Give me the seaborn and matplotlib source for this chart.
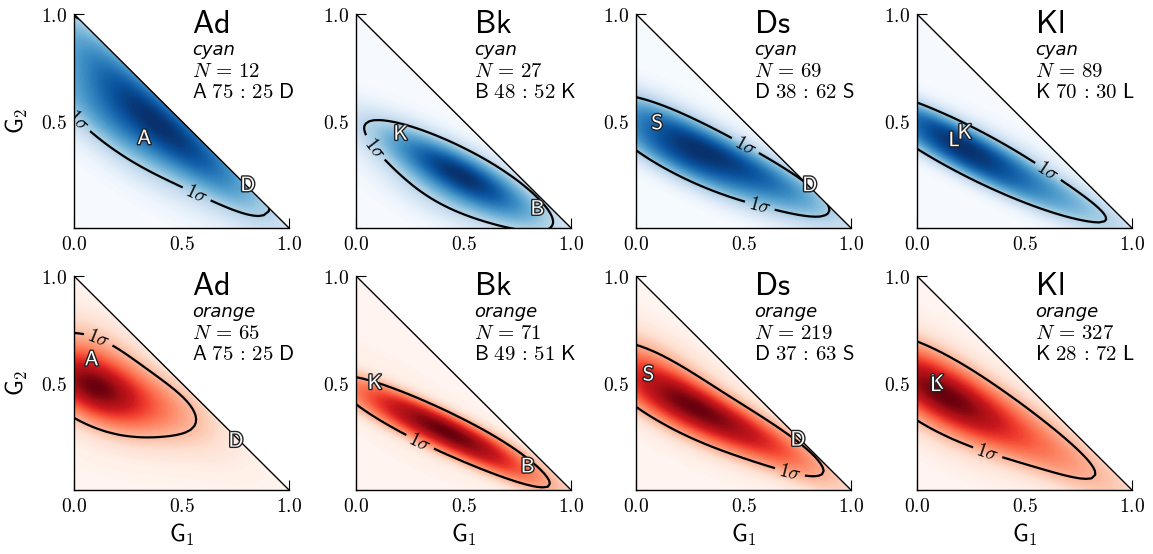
import numpy as np
import pandas as pd
import matplotlib
matplotlib.use("Agg")
import matplotlib.pyplot as plt
import seaborn as sns
from matplotlib.patches import Polygon
import matplotlib.patheffects as pe
from matplotlib.ticker import FuncFormatter, MultipleLocator

# ---------------- data ----------------
SPECIES = ["Ad", "Bk", "Ds", "Kl"]
MORPHS = ["cyan", "orange"]
N_CYAN = [12, 27, 69, 89]
N_ORANGE = [65, 71, 219, 327]
PARENT_1 = ["A", "B", "D", "K"]
PARENT_2 = ["D", "K", "S", "L"]
RATIO_CYAN = [(75, 25), (48, 52), (38, 62), (70, 30)]
RATIO_ORANGE = [(75, 25), (49, 51), (37, 63), (28, 72)]

# reference (parent) points: (G1, G2) of parent 1 and parent 2
REF_CYAN = [((0.33, 0.42), (0.81, 0.20)),
            ((0.845, 0.09), (0.21, 0.44)),
            ((0.81, 0.20), (0.10, 0.49)),
            ((0.225, 0.445), (0.175, 0.41))]
REF_ORANGE = [((0.085, 0.61), (0.755, 0.23)),
              ((0.80, 0.11), (0.09, 0.50)),
              ((0.755, 0.235), (0.06, 0.54)),
              ((0.096, 0.50), (0.09, 0.49))]

# sample clouds (G1, G2, weight)
AD_CYAN = [(0.04, 0.92, 1), (0.04, 0.60, 1), (0.10, 0.80, 1), (0.12, 0.50, 1),
           (0.20, 0.68, 1), (0.24, 0.45, 1), (0.32, 0.58, 1), (0.38, 0.43, 1),
           (0.45, 0.49, 1), (0.55, 0.36, 1), (0.64, 0.31, 1), (0.72, 0.22, 1)]
AD_ORANGE = [(0.02, 0.50, 4), (0.06, 0.46, 4), (0.05, 0.55, 3), (0.10, 0.50, 3),
             (0.02, 0.42, 2), (0.12, 0.42, 2), (0.04, 0.62, 2), (0.18, 0.52, 2),
             (0.20, 0.40, 1.5), (0.28, 0.46, 1.5), (0.30, 0.36, 1.2), (0.38, 0.42, 1.2),
             (0.42, 0.34, 1), (0.50, 0.38, 1), (0.52, 0.32, 0.7), (0.08, 0.72, 0.8),
             (0.20, 0.62, 0.6), (0.15, 0.28, 0.6), (0.35, 0.22, 0.4), (0.60, 0.20, 0.4),
             (0.75, 0.12, 0.3), (0.05, 0.20, 0.3), (0.45, 0.45, 0.8), (0.55, 0.38, 0.7),
             (0.12, 0.70, 1), (0.05, 0.76, 0.6)]
BK_CYAN = [(0.06, 0.47, 1), (0.15, 0.44, 1), (0.18, 0.35, 1), (0.25, 0.40, 1),
           (0.30, 0.28, 1.5), (0.35, 0.36, 1.5), (0.38, 0.20, 1.5), (0.42, 0.30, 2.5),
           (0.47, 0.25, 3), (0.52, 0.20, 2.5), (0.50, 0.32, 1.5), (0.58, 0.24, 2),
           (0.60, 0.12, 1.5), (0.66, 0.18, 1.5), (0.70, 0.08, 1), (0.76, 0.13, 1),
           (0.82, 0.06, 1), (0.88, 0.04, 0.6), (0.45, 0.12, 0.8), (0.30, 0.14, 0.5),
           (0.30, 0.14, 0.6), (0.45, 0.08, 0.7), (0.62, 0.05, 0.7), (0.75, 0.03, 0.5),
           (0.20, 0.30, 0.5), (0.25, 0.45, 0.6), (0.70, 0.22, 0.8)]
BK_ORANGE = [(0.02, 0.48, 1.5), (0.04, 0.40, 1.5), (0.12, 0.44, 2), (0.14, 0.36, 2),
             (0.22, 0.40, 2.5), (0.24, 0.30, 2.5), (0.32, 0.35, 3), (0.34, 0.26, 3),
             (0.42, 0.30, 3.5), (0.45, 0.22, 3.5), (0.50, 0.27, 3.5), (0.55, 0.19, 3),
             (0.60, 0.24, 2), (0.64, 0.14, 2), (0.70, 0.16, 1.5), (0.75, 0.08, 1.2),
             (0.82, 0.06, 0.8), (0.10, 0.60, 0.5), (0.30, 0.15, 0.5), (0.85, 0.04, 0.6),
             (0.72, 0.04, 0.5)]
DS_CYAN = [(0.02, 0.55, 1.5), (0.03, 0.45, 1.5), (0.10, 0.52, 2), (0.10, 0.40, 2),
           (0.18, 0.46, 2.5), (0.18, 0.32, 3), (0.25, 0.40, 2.5), (0.26, 0.28, 2.5),
           (0.32, 0.42, 1.5), (0.35, 0.29, 2), (0.40, 0.36, 1.5), (0.48, 0.31, 1.5),
           (0.55, 0.30, 1.5), (0.58, 0.19, 1.5), (0.65, 0.23, 2), (0.70, 0.15, 1.5),
           (0.75, 0.19, 1.5), (0.80, 0.11, 1), (0.42, 0.20, 0.6),
           (0.30, 0.22, 0.6), (0.58, 0.12, 0.8), (0.74, 0.08, 0.8), (0.15, 0.58, 0.8),
           (0.05, 0.40, 0.8)]
DS_ORANGE = [(0.02, 0.62, 2), (0.02, 0.45, 2.5), (0.07, 0.55, 3), (0.08, 0.42, 3),
             (0.14, 0.50, 3.5), (0.15, 0.38, 3), (0.22, 0.44, 3), (0.24, 0.34, 2.5),
             (0.30, 0.40, 2.5), (0.33, 0.31, 2.5), (0.40, 0.35, 2), (0.43, 0.28, 2),
             (0.50, 0.31, 2), (0.52, 0.24, 1.8), (0.60, 0.26, 1.8), (0.62, 0.20, 1.5),
             (0.70, 0.21, 1.5), (0.72, 0.16, 1.2), (0.80, 0.13, 0.8), (0.10, 0.70, 0.8),
             (0.15, 0.25, 0.6), (0.05, 0.70, 1), (0.20, 0.60, 1), (0.80, 0.11, 0.8)]
KL_CYAN = [(0.02, 0.52, 2.5), (0.03, 0.42, 2.5), (0.08, 0.48, 3.5), (0.10, 0.38, 3),
           (0.16, 0.44, 3.5), (0.18, 0.34, 3), (0.24, 0.40, 2.5), (0.26, 0.28, 2.5),
           (0.33, 0.35, 2), (0.35, 0.24, 2), (0.42, 0.32, 1.5), (0.45, 0.20, 1.5),
           (0.52, 0.26, 1.2), (0.55, 0.16, 1.2), (0.62, 0.20, 1), (0.65, 0.12, 1),
           (0.72, 0.12, 1.2), (0.80, 0.08, 1.2), (0.88, 0.05, 1), (0.30, 0.45, 0.7),
           (0.78, 0.15, 0.8), (0.62, 0.10, 0.8), (0.45, 0.40, 0.8)]
KL_ORANGE = [(0.02, 0.55, 3), (0.02, 0.42, 3), (0.06, 0.48, 4.5), (0.08, 0.40, 3.5),
             (0.10, 0.52, 3), (0.14, 0.44, 3), (0.04, 0.62, 2), (0.03, 0.32, 1.5),
             (0.18, 0.36, 2), (0.22, 0.46, 1.5), (0.28, 0.30, 1.5), (0.32, 0.40, 1.2),
             (0.40, 0.26, 1.2), (0.44, 0.36, 1), (0.50, 0.22, 1), (0.55, 0.30, 0.9),
             (0.62, 0.16, 0.8), (0.68, 0.22, 0.7), (0.75, 0.10, 1), (0.84, 0.07, 0.9),
             (0.12, 0.22, 0.6), (0.15, 0.65, 0.6), (0.88, 0.04, 0.6), (0.62, 0.12, 0.9),
             (0.70, 0.15, 0.8), (0.50, 0.38, 0.7), (0.02, 0.68, 1.0)]

CLOUDS = {"cyan": [AD_CYAN, BK_CYAN, DS_CYAN, KL_CYAN],
          "orange": [AD_ORANGE, BK_ORANGE, DS_ORANGE, KL_ORANGE]}

# layout-only: where the "1 sigma" labels sit
SIGMA_LABEL_POS = {"cyan": [[(0.04, 0.52), (0.58, 0.18)], [(0.12, 0.40)],
                            [(0.50, 0.37), (0.58, 0.12)], [(0.60, 0.25)]],
                   "orange": [[(0.12, 0.72)], [(0.30, 0.23)],
                              [(0.72, 0.10)], [(0.33, 0.18)]]}

# ---------------- style ----------------
sns.set_style("ticks")
plt.rcParams["font.family"] = ["DejaVu Sans"]
plt.rcParams["mathtext.fontset"] = "cm"
plt.rcParams["xtick.direction"] = "in"
plt.rcParams["ytick.direction"] = "in"
for k in ("text.color", "axes.labelcolor", "xtick.color", "ytick.color",
          "axes.edgecolor"):
    plt.rcParams[k] = "black"

fig = plt.figure(figsize=(11.53, 5.54), dpi=100)
lefts = [0.0642, 0.3088, 0.5516, 0.7953]
bottoms = {"cyan": 0.5884, "orange": 0.1155}
W, H = 0.1865, 0.3863
CMAPS = {"cyan": "Blues", "orange": "Reds"}
N_MAP = {"cyan": N_CYAN, "orange": N_ORANGE}
RATIO_MAP = {"cyan": RATIO_CYAN, "orange": RATIO_ORANGE}
REF_MAP = {"cyan": REF_CYAN, "orange": REF_ORANGE}
BW = 1.6
SIGMA_LEVEL = 0.28

fmt = FuncFormatter(lambda v, p: f"${v:.1f}$")

for morph in MORPHS:
    for j, sp in enumerate(SPECIES):
        ax = fig.add_axes([lefts[j], bottoms[morph], W, H])
        df = pd.DataFrame(CLOUDS[morph][j], columns=["g1", "g2", "w"])
        sns.kdeplot(data=df, x="g1", y="g2", weights="w", fill=True,
                    levels=90, thresh=0, cmap=CMAPS[morph], ax=ax,
                    antialiased=False, cut=6, gridsize=150, bw_adjust=BW)
        n_before = len(ax.collections)
        sns.kdeplot(data=df, x="g1", y="g2", weights="w", fill=False,
                    levels=[SIGMA_LEVEL], colors="k", linewidths=1.6, ax=ax,
                    cut=6, gridsize=150, bw_adjust=BW)
        cs = ax.collections[n_before]
        ax.set_xlim(0, 1)
        ax.set_ylim(0, 1)
        tri = Polygon([[0, 0], [1, 0], [0, 1]], closed=True,
                      transform=ax.transData)
        for coll in ax.collections:
            coll.set_clip_path(tri)
        ax.clabel(cs, levels=cs.levels, inline=True, fontsize=14,
                  fmt=lambda v: r"$1\sigma$", manual=SIGMA_LABEL_POS[morph][j],
                  inline_spacing=4)
        ax.plot([0, 1], [1, 0], color="k", lw=1.0)

        sns.despine(ax=ax)
        for s in ("left", "bottom"):
            ax.spines[s].set_linewidth(1.0)
        ax.set_xticks([0, 0.5, 1.0])
        ax.set_yticks([0.5, 1.0])
        ax.xaxis.set_minor_locator(MultipleLocator(0.1))
        ax.yaxis.set_minor_locator(MultipleLocator(0.1))
        ax.xaxis.set_major_formatter(fmt)
        ax.yaxis.set_major_formatter(fmt)
        ax.tick_params(which="major", length=7, width=0.8, labelsize=14, pad=5)
        ax.tick_params(which="minor", length=4, width=0.8)
        ax.set_xlabel(r"$\mathsf{G_1}$" if morph == "orange" else "", fontsize=17)
        ax.set_ylabel(r"$\mathsf{G_2}$" if j == 0 else "", fontsize=17,
                      labelpad=8)

        # parent reference letters
        for letter, pos in zip([PARENT_1[j], PARENT_2[j]], REF_MAP[morph][j]):
            ax.text(pos[0], pos[1], rf"$\mathsf{{{letter}}}$", color="white",
                    fontsize=15, ha="center", va="center",
                    path_effects=[pe.withStroke(linewidth=2, foreground="#222222")])

        # annotation block
        a, b = RATIO_MAP[morph][j]
        ax.text(0.55, 0.911, rf"$\mathsf{{{sp}}}$", transform=ax.transAxes,
                fontsize=23)
        ax.text(0.55, 0.808, morph, transform=ax.transAxes, fontsize=13,
                fontstyle="italic")
        ax.text(0.55, 0.706, rf"$N\,=\,{N_MAP[morph][j]}$", transform=ax.transAxes,
                fontsize=15)
        ax.text(0.55, 0.607,
                rf"$\mathsf{{{PARENT_1[j]}}}\ {a}\,:\,{b}\ \mathsf{{{PARENT_2[j]}}}$",
                transform=ax.transAxes, fontsize=15)

fig.savefig("out.png", dpi=100)
